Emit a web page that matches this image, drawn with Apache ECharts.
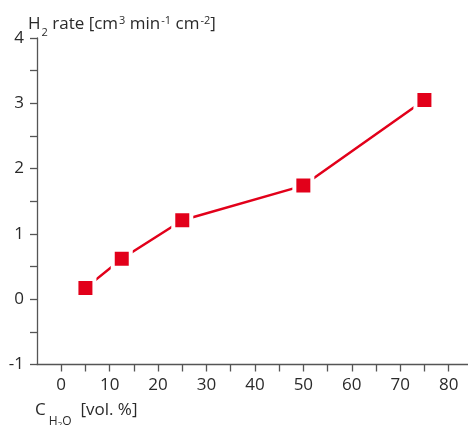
<!DOCTYPE html>
<html>
<head>
<meta charset="utf-8">
<script src="https://cdn.jsdelivr.net/npm/echarts@6/dist/echarts.min.js"></script>
<style>
html,body{margin:0;padding:0;background:#fff;}
#chart{width:468px;height:425px;}
</style>
</head>
<body>
<div id="chart"></div>
<script>
// Data
const waterConc = [5, 12.5, 25, 50, 75];          // C_H2O [vol. %]
const h2Rate = [0.17, 0.62, 1.21, 1.74, 3.05];    // H2 rate [cm3 min-1 cm-2]
const xTickValues = [0, 5, 10, 15, 20, 25, 30, 35, 40, 45, 50, 55, 60, 65, 70, 75, 80];
const xLabelValues = [0, 10, 20, 30, 40, 50, 60, 70, 80];

const FONT = '"Open Sans", "Noto Sans", sans-serif';
const TXT = '#2a2a2a';
const AX = '#555555';
const RED = '#e2001a';

const chart = echarts.init(document.getElementById('chart'), null, {renderer: 'canvas'});
chart.setOption({
  animation: false,
  backgroundColor: '#ffffff',
  grid: {left: 37, right: 0, top: 38, bottom: 60.5, containLabel: false},
  xAxis: {
    type: 'value',
    min: -5, max: 84, interval: 5,
    axisLine: {show: true, onZero: false, lineStyle: {color: AX, width: 1.3}},
    axisTick: {show: true, length: 7, customValues: xTickValues, lineStyle: {color: AX, width: 1.3}},
    axisLabel: {customValues: xLabelValues, fontSize: 17, color: TXT, fontFamily: FONT, margin: 12},
    splitLine: {show: false}
  },
  yAxis: {
    type: 'value',
    min: -1, max: 4, interval: 1,
    axisLine: {show: true, onZero: false, lineStyle: {color: AX, width: 1.3}},
    axisTick: {show: true, length: 7, lineStyle: {color: AX, width: 1.3}},
    minorTick: {show: true, splitNumber: 2, length: 7, lineStyle: {color: AX, width: 1.3}},
    axisLabel: {fontSize: 17, color: TXT, fontFamily: FONT, margin: 13},
    splitLine: {show: false},
    minorSplitLine: {show: false}
  },
  graphic: [
    {
      type: 'text', left: 28, top: 10.5, silent: true,
      style: {
        text: '{m|H}{sub|2}{m| rate [cm}{sup|3}{m| min}{sup|-1}{m| cm}{sup|-2}{m|]}',
        fill: TXT, font: '17px ' + FONT,
        rich: {
          m: {fontSize: 17, fontFamily: FONT, lineHeight: 20, verticalAlign: 'middle', fill: TXT},
          sub: {fontSize: 11, fontFamily: FONT, lineHeight: 12, padding: [17, 0, 0, 1], verticalAlign: 'middle', fill: TXT},
          sup: {fontSize: 11, fontFamily: FONT, lineHeight: 12, padding: [0, 0, 7, 1], verticalAlign: 'middle', fill: TXT}
        }
      }
    },
    {
      type: 'text', left: 35, top: 391, silent: true,
      style: {
        text: '{m|C}{s| H}{ss|2}{s|O}{m|  [vol. %]}',
        fill: TXT, font: '17px ' + FONT,
        rich: {
          m: {fontSize: 17, fontFamily: FONT, lineHeight: 20, verticalAlign: 'middle', fill: TXT},
          s: {fontSize: 12, fontFamily: FONT, lineHeight: 12, padding: [24, 0, 0, 0], verticalAlign: 'middle', fill: TXT},
          ss: {fontSize: 8, fontFamily: FONT, lineHeight: 8, padding: [30, 0, 0, 0], verticalAlign: 'middle', fill: TXT}
        }
      }
    }
  ],
  series: [{
    type: 'line',
    data: waterConc.map((x, i) => [x, h2Rate[i]]),
    symbol: 'rect',
    symbolSize: 18,
    itemStyle: {color: RED, borderColor: '#ffffff', borderWidth: 4},
    lineStyle: {color: RED, width: 2.5},
    emphasis: {disabled: true},
    clip: false
  }]
});
</script>
</body>
</html>
